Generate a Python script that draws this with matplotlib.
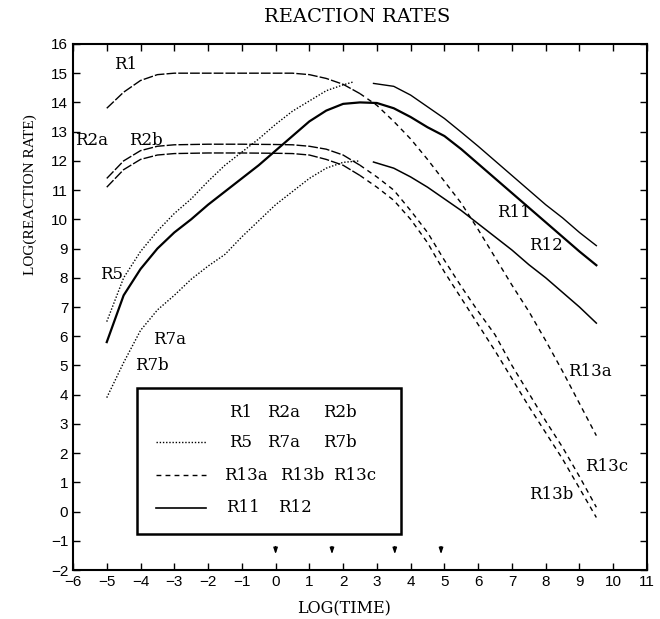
#!/usr/bin/env python3
"""Reaction rates vs time, log-log, with labelled reaction curves."""

import matplotlib
matplotlib.use("Agg")
import matplotlib.pyplot as plt

SERIF = "DejaVu Serif"
TIMES = "Liberation Serif"
SANS = "Liberation Sans"

# R1 -> R13a (dashed, top)
r1_x = [-5, -4.5, -4, -3.5, -3, -2, -1, 0, 0.5, 1, 1.5, 2, 2.5, 3, 3.5, 4, 4.5, 5,
        5.5, 6, 6.5, 7, 7.5, 8, 8.5, 9, 9.5]
r1_y = [13.8, 14.35, 14.75, 14.95, 15.0, 15.0, 15.0, 15.0, 15.0, 14.95, 14.82, 14.62,
        14.3, 13.9, 13.35, 12.75, 12.05, 11.3, 10.55, 9.65, 8.7, 7.75, 6.85, 5.85,
        4.8, 3.7, 2.6]

# R2b -> R13c (dashed, upper plateau 12.55)
r2b_x = [-5, -4.5, -4, -3.5, -3, -2, -1, 0, 0.5, 1, 1.5, 2, 2.5, 3, 3.5, 4, 4.5, 5,
         5.5, 6, 6.5, 7, 7.5, 8, 8.5, 9, 9.5]
r2b_y = [11.4, 12.0, 12.35, 12.5, 12.55, 12.57, 12.57, 12.56, 12.55, 12.5, 12.4,
         12.2, 11.85, 11.45, 11.0, 10.3, 9.55, 8.6, 7.7, 6.85, 6.05, 5.0, 4.05, 3.1,
         2.2, 1.2, 0.15]

# R2a -> R13b (dashed, lower plateau 12.25)
r2a_x = r2b_x
r2a_y = [11.1, 11.7, 12.05, 12.2, 12.25, 12.27, 12.27, 12.26, 12.25, 12.2, 12.05,
         11.85, 11.5, 11.1, 10.65, 10.0, 9.2, 8.2, 7.3, 6.4, 5.5, 4.55, 3.6, 2.7,
         1.8, 0.8, -0.2]

# R5 (dotted, upper)
r5_x = [-5, -4.5, -4, -3.5, -3, -2.5, -2, -1.5, -1, -0.5, 0, 0.5, 1, 1.5, 2, 2.3]
r5_y = [6.5, 8.0, 8.9, 9.6, 10.2, 10.7, 11.3, 11.85, 12.3, 12.75, 13.25, 13.7,
        14.05, 14.4, 14.6, 14.7]

# R7 (dotted, lower)
r7_x = [-5, -4.5, -4, -3.5, -3, -2.5, -2, -1.5, -1, -0.5, 0, 0.5, 1, 1.5, 2, 2.5]
r7_y = [3.9, 5.1, 6.2, 6.9, 7.4, 7.95, 8.4, 8.8, 9.4, 9.95, 10.5, 10.95, 11.4,
        11.75, 11.95, 12.0]

# solid, thick (rise, plateau at 14, decline)
r11_x = [-5, -4.5, -4, -3.5, -3, -2.5, -2, -1.5, -1, -0.5, 0, 0.5, 1, 1.5, 2, 2.5,
         3, 3.5, 4, 4.5, 5, 5.5, 6, 6.5, 7, 7.5, 8, 8.5, 9, 9.5]
r11_y = [5.8, 7.4, 8.3, 9.0, 9.55, 10.0, 10.5, 10.95, 11.4, 11.85, 12.35, 12.85,
         13.35, 13.72, 13.95, 14.0, 13.98, 13.8, 13.5, 13.15, 12.85, 12.4, 11.9,
         11.4, 10.9, 10.4, 9.9, 9.4, 8.9, 8.43]

# solid, thin (top right)
top_x = [2.9, 3.5, 4, 4.5, 5, 5.5, 6, 6.5, 7, 7.5, 8, 8.5, 9, 9.5]
top_y = [14.65, 14.55, 14.25, 13.85, 13.45, 12.98, 12.5, 12.0, 11.5, 11.0, 10.5,
         10.05, 9.55, 9.1]

# solid, thin (lower right)
low_x = [2.9, 3.5, 4, 4.5, 5, 5.5, 6, 6.5, 7, 7.5, 8, 8.5, 9, 9.5]
low_y = [11.96, 11.75, 11.45, 11.1, 10.7, 10.3, 9.85, 9.4, 8.95, 8.45, 8.0, 7.5,
         7.0, 6.45]

# curve labels
lab_text = ["R1", "R2a", "R2b", "R5", "R7a", "R7b", "R11", "R12", "R13a", "R13c", "R13b"]
lab_x = [-4.45, -5.45, -3.85, -4.85, -3.15, -3.65, 7.05, 8.0, 9.3, 9.8, 8.15]
lab_y = [15.3, 12.7, 12.7, 8.1, 5.9, 5.0, 10.25, 9.1, 4.8, 1.55, 0.6]

# arrows marking times on the time axis
arrow_x = [0, 1.67, 3.53, 4.9]

LONG_DASH = (0, (7, 1.5))
SHORT_DASH = (0, (3.5, 3))
DOTTED = (0, (1, 1.3))


def split(xs, ys, at):
    left = [(x, y) for x, y in zip(xs, ys) if x <= at]
    right = [(x, y) for x, y in zip(xs, ys) if x >= at]
    return list(zip(*left)), list(zip(*right))


def main():
    fig = plt.figure(figsize=(6.6, 6.19), dpi=100)
    ax = fig.add_axes([0.1106, 0.079, 0.8697, 0.850])

    for xs, ys in [(r1_x, r1_y), (r2a_x, r2a_y), (r2b_x, r2b_y)]:
        (lx, ly), (rx, ry) = split(xs, ys, 2.5)
        ax.plot(lx, ly, color="black", lw=1.0, linestyle=LONG_DASH)
        ax.plot(rx, ry, color="black", lw=1.0, linestyle=SHORT_DASH)

    ax.plot(r5_x, r5_y, color="black", lw=1.0, linestyle=DOTTED)
    ax.plot(r7_x, r7_y, color="black", lw=1.0, linestyle=DOTTED)
    ax.plot(r11_x, r11_y, color="black", lw=1.6)
    ax.plot(top_x, top_y, color="black", lw=1.0)
    ax.plot(low_x, low_y, color="black", lw=1.1)

    for t, x, y in zip(lab_text, lab_x, lab_y):
        ax.text(x, y, t, ha="center", va="center", fontsize=12, family=SERIF)

    for x in arrow_x:
        ax.annotate("", xy=(x, -1.55), xytext=(x, -1.1),
                    arrowprops=dict(arrowstyle="-|>,head_length=0.35,head_width=0.12",
                                    color="black", lw=1.0))

    # legend box drawn inside the axes
    ax.add_patch(plt.Rectangle((-4.1, -0.75), 7.8, 4.97, fill=False,
                               edgecolor="black", lw=1.8, zorder=3))
    rows = [
        (3.4, None, ["R1", "R2a", "R2b"], [-1.375, -0.24, 1.40]),
        (2.37, DOTTED, ["R5", "R7a", "R7b"], [-1.375, -0.24, 1.40]),
        (1.24, SHORT_DASH, ["R13a", "R13b", "R13c"], [-1.53, 0.12, 1.71]),
        (0.14, "solid", ["R11", "R12"], [-1.46, 0.06]),
    ]
    for y, style, names, xs in rows:
        if style is not None:
            ax.plot([-3.55, -2.05], [y, y], color="black", lw=1.2 if style == "solid" else 1.0,
                    linestyle=style)
        for cx, n in zip(xs, names):
            ax.text(cx, y, n, ha="left", va="center", fontsize=12, family=SERIF)

    ax.set_xlim(-6, 11)
    ax.set_ylim(-2, 16)
    ax.set_xticks(range(-6, 12))
    ax.set_yticks(range(-2, 17))
    ax.tick_params(direction="in", length=5, width=1.0, top=True, right=True,
                   labelsize=11)
    for lab in ax.get_xticklabels() + ax.get_yticklabels():
        lab.set_family(SANS)
    for s in ax.spines.values():
        s.set_linewidth(1.5)

    ax.set_xlabel("LOG(TIME)", fontsize=11.5, family=SERIF)
    ax.xaxis.set_label_coords(0.472, -0.058)
    ax.set_ylabel("LOG(REACTION RATE)", fontsize=11, family=TIMES)
    ax.yaxis.set_label_coords(-0.063, 0.713)
    fig.text(357 / 660, 1 - 17 / 619, "REACTION RATES", ha="center", va="center",
             fontsize=14, family=SERIF)

    fig.savefig("out.png", dpi=100)


if __name__ == "__main__":
    main()
